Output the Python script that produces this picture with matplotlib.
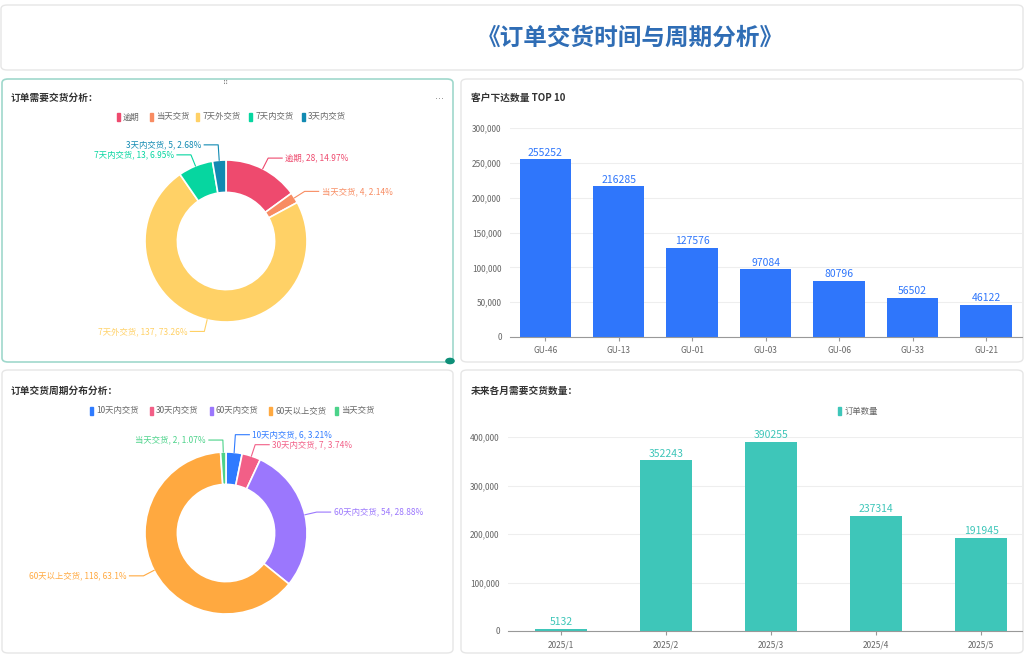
import numpy as np
import matplotlib
matplotlib.use("Agg")
import matplotlib.pyplot as plt
from matplotlib.patches import FancyBboxPatch, Rectangle
from matplotlib.ticker import FuncFormatter

plt.rcParams['font.family'] = ['Noto Sans CJK SC', 'DejaVu Sans']

W, H = 1024, 654

# ---- data ----
title = "《订单交货时间与周期分析》"
pie1_title = "订单需要交货分析："
pie1_labels = ["逾期", "当天交货", "7天外交货", "7天内交货", "3天内交货"]
pie1_values = [28, 4, 137, 13, 5]
pie1_colors = ["#ee4a6e", "#f88c62", "#ffd166", "#06d6a0", "#118ab2"]

pie2_title = "订单交货周期分布分析："
pie2_labels = ["10天内交货", "30天内交货", "60天内交货", "60天以上交货", "当天交货"]
pie2_values = [6, 7, 54, 118, 2]
pie2_colors = ["#2f7bff", "#f25f87", "#9b77fd", "#ffa940", "#4cd38a"]

bar1_title = "客户下达数量 TOP 10"
bar1_cats = ["GU-46", "GU-13", "GU-01", "GU-03", "GU-06", "GU-33", "GU-21"]
bar1_vals = [255252, 216285, 127576, 97084, 80796, 56502, 46122]

bar2_title = "未来各月需要交货数量："
bar2_cats = ["2025/1", "2025/2", "2025/3", "2025/4", "2025/5"]
bar2_vals = [5132, 352243, 390255, 237314, 191945]

fig = plt.figure(figsize=(W/100, H/100), dpi=100)
fig.patch.set_facecolor("white")

def rect(x0, y0, x1, y1):
    return [x0/W, 1-y1/H, (x1-x0)/W, (y1-y0)/H]

def panel(x0, y0, x1, y1, ec="#e6e6e6", lw=1):
    p = FancyBboxPatch((x0/W, 1-y1/H), (x1-x0)/W, (y1-y0)/H,
                       boxstyle="round,pad=0,rounding_size=0.006",
                       transform=fig.transFigure, fc="white", ec=ec, lw=lw, zorder=-10)
    fig.add_artist(p)

def ftext(x, y, s, **kw):
    fig.text(x/W, 1-y/H, s, **kw)

def pct_lr(vals, digits=2):
    # largest remainder percentages
    tot = sum(vals)
    scale = 10**digits
    raw = [v/tot*100*scale for v in vals]
    fl = [int(np.floor(r)) for r in raw]
    rem = 100*scale - sum(fl)
    order = sorted(range(len(vals)), key=lambda i: raw[i]-fl[i], reverse=True)
    for i in order[:rem]:
        fl[i] += 1
    return [f/scale for f in fl]

panel(1, 5, 1023, 70)
panel(2, 79, 453, 362, ec="#9fd8cc", lw=1.2)
panel(461, 79, 1023, 362)
panel(2, 370, 453, 653)
panel(461, 370, 1023, 653)
ftext(630, 38, title, ha="center", va="center", fontsize=17, fontweight="bold", color="#2f6db5")
fig.add_artist(plt.Circle((450/W, 1-361/H), 0.004, transform=fig.transFigure, color="#0e8f78", zorder=5))
ftext(226, 83, "⠿", ha="center", va="center", fontsize=5, color="#888", family=["DejaVu Sans"])
ftext(439, 96, "...", ha="center", va="center", fontsize=7, color="#888", family=["DejaVu Sans"])

def donut(cx, cy, r, labels, vals, colors, ttl, ty, leg_y):
    ftext(11, ty, ttl, ha="left", va="center", fontsize=7, fontweight="bold", color="#333")
    widths = [len(l)*6.6 + 20 for l in labels]
    total = sum(widths) - 20
    x = 226 - total/2
    for l, c, w in zip(labels, colors, widths):
        fig.add_artist(Rectangle(((x)/W, 1-(leg_y+4)/H), 3/W, 8/H, transform=fig.transFigure, color=c))
        ftext(x+6, leg_y, l, ha="left", va="center", fontsize=6, color="#666")
        x += w
    ax = fig.add_axes(rect(cx-130, cy-130, cx+130, cy+130))
    wedges, _ = ax.pie(vals, colors=colors, startangle=90, counterclock=False, radius=r,
                       center=(0, 0), wedgeprops=dict(width=r*0.4, edgecolor="white", linewidth=1.2), frame=True)
    ax.set_xlim(-130, 130); ax.set_ylim(-130, 130); ax.set_aspect("equal"); ax.axis("off")
    pcts = pct_lr(vals)
    items = []
    for wdg, l, v, c, p in zip(wedges, labels, vals, colors, pcts):
        a = np.deg2rad((wdg.theta1 + wdg.theta2)/2)
        x0, y0 = r*np.cos(a), r*np.sin(a)
        x1, y1 = (r+12)*np.cos(a), (r+12)*np.sin(a)
        sgn = 1 if x1 >= 0 else -1
        items.append(dict(x0=x0, y0=y0, x1=x1, y1=y1, sgn=sgn, s=f"{l}, {v}, {p:g}%", c=c))
    # resolve overlaps per side (push upward)
    for side in (1, -1):
        grp = sorted([it for it in items if it["sgn"] == side], key=lambda it: it["y1"])
        for i in range(1, len(grp)):
            if grp[i]["y1"] < grp[i-1]["y1"] + 10:
                grp[i]["y1"] = grp[i-1]["y1"] + 10
    for it in items:
        sgn = it["sgn"]
        x2 = it["x1"] + sgn*14
        ax.plot([it["x0"], it["x1"], x2], [it["y0"], it["y1"], it["y1"]], color=it["c"], lw=0.8, clip_on=False)
        ax.text(x2 + sgn*3, it["y1"], it["s"], ha="left" if sgn > 0 else "right", va="center",
                fontsize=6, color=it["c"], clip_on=False)

donut(226, 241, 81, pie1_labels, pie1_values, pie1_colors, pie1_title, 98, 117)
donut(226, 533, 81, pie2_labels, pie2_values, pie2_colors, pie2_title, 391, 411)

def bars(box, cats, vals, color, ttl, ty, ymax, step, xlim, lab_color, legend=None):
    ftext(471, ty, ttl, ha="left", va="center", fontsize=7, fontweight="bold", color="#333")
    ax = fig.add_axes(rect(*box))
    ax.patch.set_alpha(0)
    x = np.arange(len(cats))
    ax.bar(x, vals, width=0.7 if len(cats) > 5 else 0.5, color=color, zorder=2)
    for xi, v in zip(x, vals):
        ax.text(xi, v + ymax*0.008, str(v), ha="center", va="bottom", fontsize=7.5, color=lab_color)
    ax.set_xlim(*xlim); ax.set_ylim(0, ymax)
    ax.set_yticks(np.arange(0, ymax+1, step))
    ax.yaxis.set_major_formatter(FuncFormatter(lambda v, p: f"{int(v):,}"))
    ax.set_xticks(x, cats)
    ax.grid(axis="y", color="#eeeeee", lw=0.8, zorder=0)
    for s in ["top", "right", "left"]:
        ax.spines[s].set_visible(False)
    ax.spines["bottom"].set_color("#999")
    ax.tick_params(axis="y", length=0, labelsize=6, colors="#666", pad=6)
    ax.tick_params(axis="x", length=3, labelsize=6, colors="#666", color="#999")
    if legend:
        fig.add_artist(Rectangle((838/W, 1-415/H), 3/W, 8/H, transform=fig.transFigure, color=color))
        ftext(845, 411, legend, ha="left", va="center", fontsize=6, color="#666")

bars((510, 128, 1022, 337), bar1_cats, bar1_vals, "#2f76fb", bar1_title, 98, 300000, 50000,
     (-0.48, 6.49), "#2f76fb")
bars((508, 437, 1022, 631), bar2_cats, bar2_vals, "#3ec6b9", bar2_title, 391, 400000, 100000,
     (-0.505, 4.39), "#3ec6b9", legend="订单数量")

fig.savefig("out.png", dpi=100, facecolor="white")
